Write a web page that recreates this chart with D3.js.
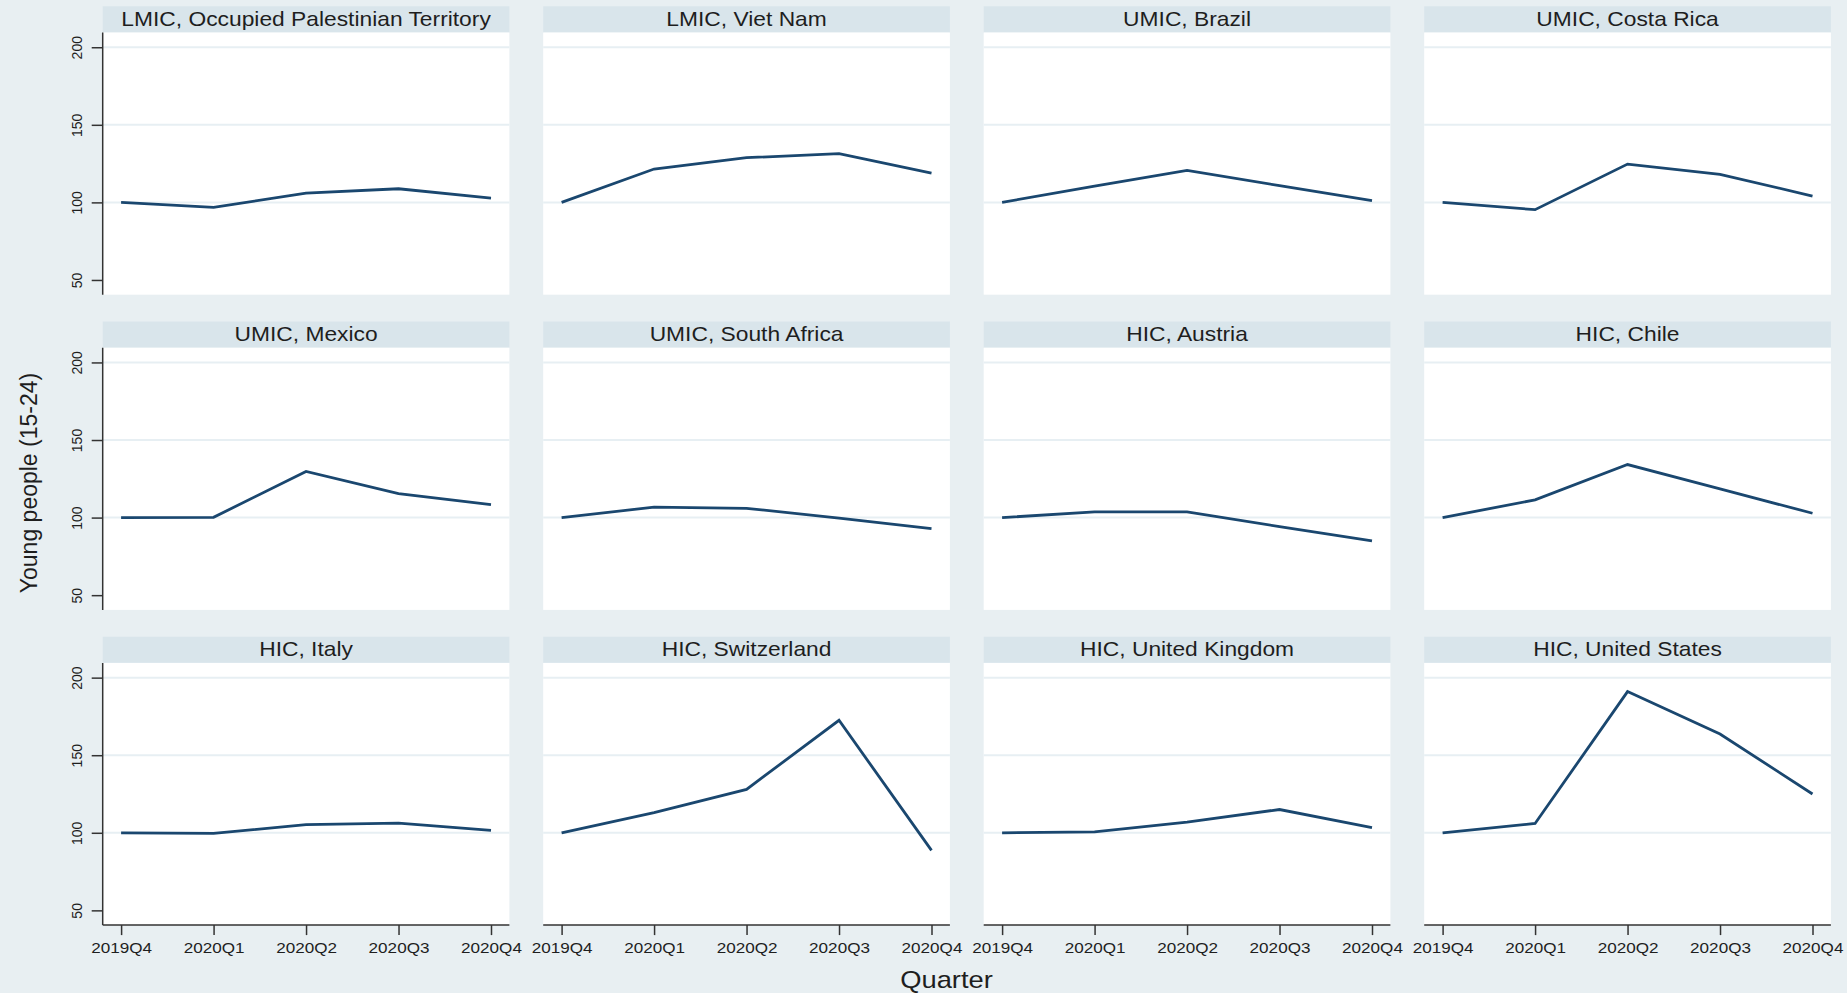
<!DOCTYPE html>
<html>
<head>
<meta charset="utf-8">
<script src="https://cdn.jsdelivr.net/npm/d3@7"></script>
<style>
  html, body { margin: 0; padding: 0; background: #e8eff2; }
  svg { display: block; }
  text { font-family: "Liberation Sans", Arial, sans-serif; fill: #1e1e1e; }
</style>
</head>
<body>
<svg id="chart" width="1847" height="993"></svg>
<script>
// ---------- data ----------
const quarters = ["2019Q4", "2020Q1", "2020Q2", "2020Q3", "2020Q4"];
const yTicks = [50, 100, 150, 200];
const gridTicks = [100, 150, 200];
const panelTitles = [
  "LMIC, Occupied Palestinian Territory", "LMIC, Viet Nam", "UMIC, Brazil", "UMIC, Costa Rica",
  "UMIC, Mexico", "UMIC, South Africa", "HIC, Austria", "HIC, Chile",
  "HIC, Italy", "HIC, Switzerland", "HIC, United Kingdom", "HIC, United States"
];
const palestine    = [100, 96.8, 106.0, 108.8, 102.8];
const vietNam      = [100, 121.5, 128.8, 131.4, 118.9];
const brazil       = [100, 110.5, 120.6, 110.8, 101.1];
const costaRica    = [100, 95.3, 124.7, 118.1, 104.1];
const mexico       = [100, 100.2, 129.7, 115.5, 108.4];
const southAfrica  = [100, 106.7, 106.0, 99.6, 92.9];
const austria      = [100, 103.7, 103.7, 94.2, 85.0];
const chile        = [100, 111.4, 134.2, 118.5, 102.8];
const italy        = [100, 99.6, 105.2, 106.2, 101.5];
const switzerland  = [100, 113.0, 128.0, 172.5, 88.7];
const unitedKingdom= [100, 100.6, 106.9, 115.0, 103.4];
const unitedStates = [100, 106.0, 191.0, 163.7, 125.0];
const seriesValues = [palestine, vietNam, brazil, costaRica, mexico, southAfrica,
                      austria, chile, italy, switzerland, unitedKingdom, unitedStates];
const yTitle = "Young people (15-24)";
const xTitle = "Quarter";

// ---------- layout ----------
const nCols = 4, nRows = 3;
const colX0 = 102.7, colPitch = 440.5, colW = 406.7;
const rowY0 = 6.3, rowPitch = 315.2, stripH = 26.2, plotH = 262.2;
const xPad = 18.4;
const stretch = 1.14;

const svg = d3.select("#chart");
svg.append("rect").attr("width", 1847).attr("height", 993).attr("fill", "#e8eff2");

const x = d3.scalePoint().domain(quarters).range([xPad, colW - xPad]);
const y = d3.scaleLinear().domain([40.5, 209.5]).range([plotH, 0]);

const line = d3.line().x((d, i) => x(quarters[i])).y(d => y(d));

panelTitles.forEach((title, k) => {
  const r = Math.floor(k / nCols), c = k % nCols;
  const gx = colX0 + c * colPitch, gy = rowY0 + r * rowPitch;
  const g = svg.append("g").attr("transform", `translate(${gx},${gy})`);

  // strip
  g.append("rect").attr("x", 0).attr("y", 0).attr("width", colW).attr("height", stripH)
    .attr("fill", "#d9e5eb");
  g.append("text")
    .attr("transform", `translate(${colW / 2},${19.7}) scale(${stretch},1)`)
    .attr("text-anchor", "middle").attr("font-size", 20)
    .text(title);

  const p = g.append("g").attr("transform", `translate(0,${stripH})`);
  p.append("rect").attr("width", colW).attr("height", plotH).attr("fill", "#ffffff");

  // grid
  p.selectAll("line.grid").data(gridTicks).join("line")
    .attr("class", "grid")
    .attr("x1", 0).attr("x2", colW)
    .attr("y1", d => y(d)).attr("y2", d => y(d))
    .attr("stroke", "#e7eff3").attr("stroke-width", 2);

  // series line
  p.append("path").datum(seriesValues[k])
    .attr("d", line)
    .attr("fill", "none")
    .attr("stroke", "#1a476f")
    .attr("stroke-width", 2.8)
    .attr("stroke-linejoin", "miter");

  // y axis on first column
  if (c === 0) {
    const ya = p.append("g").call(d3.axisLeft(y).tickValues(yTicks).tickSize(11).tickSizeOuter(0));
    ya.select(".domain").attr("stroke", "#333").attr("stroke-width", 1.5)
      .attr("d", `M0,0V${plotH}`);
    ya.selectAll(".tick line").attr("stroke", "#333").attr("stroke-width", 1.5);
    ya.selectAll(".tick text")
      .attr("x", null).attr("dy", null)
      .attr("transform", "translate(-21,0) rotate(-90)")
      .attr("text-anchor", "middle")
      .attr("font-size", 14)
      .attr("font-family", "Liberation Sans, Arial, sans-serif")
      .attr("fill", "#1e1e1e");
  }

  // x axis on last row
  if (r === nRows - 1) {
    const xa = p.append("g").attr("transform", `translate(0,${plotH})`)
      .call(d3.axisBottom(x).tickSize(10).tickSizeOuter(0));
    xa.select(".domain").attr("stroke", "#333").attr("stroke-width", 1.5)
      .attr("d", `M0,0H${colW}`);
    xa.selectAll(".tick line").attr("stroke", "#333").attr("stroke-width", 1.5);
    xa.selectAll(".tick text")
      .attr("y", null).attr("dy", null)
      .attr("transform", `translate(0,27.5) scale(${stretch},1)`)
      .attr("text-anchor", "middle")
      .attr("font-size", 15)
      .attr("font-family", "Liberation Sans, Arial, sans-serif")
      .attr("fill", "#111");
  }
});

// axis titles
svg.append("text")
  .attr("transform", "translate(37,483) rotate(-90)")
  .attr("text-anchor", "middle").attr("font-size", 23)
  .text(yTitle);
svg.append("text")
  .attr("transform", `translate(946.5,987.5) scale(${stretch},1)`)
  .attr("text-anchor", "middle").attr("font-size", 24)
  .text(xTitle);
</script>
</body>
</html>
